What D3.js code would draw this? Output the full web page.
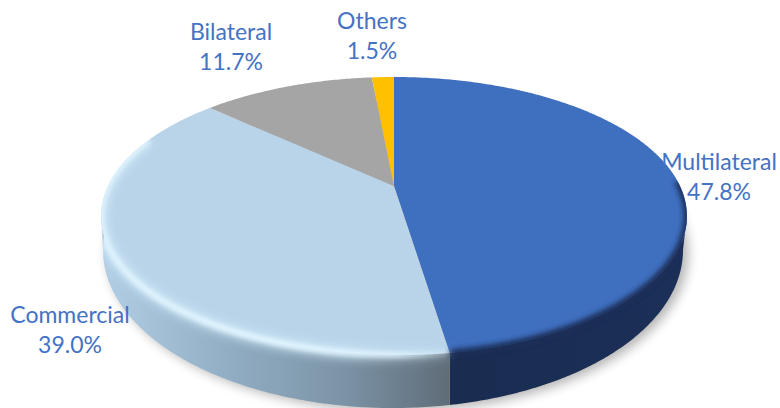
<!DOCTYPE html>
<html>
<head>
<meta charset="utf-8">
<script src="https://d3js.org/d3.v7.min.js"></script>
<style>
  html, body { margin: 0; background: #fff; }
  svg { display: block; }
  text { font-family: Lato, "Open Sans", sans-serif; fill: #4472C4; text-anchor: middle; }
</style>
</head>
<body>
<svg width="780" height="408"></svg>
<script>
var categories = ["Multilateral", "Commercial", "Bilateral", "Others"];
var shares = [47.8, 39.0, 11.7, 1.5];
var pctLabels = ["47.8%", "39.0%", "11.7%", "1.5%"];
var colors = ["#3F6FBF", "#B9D3E9", "#A5A5A5", "#FFC000"];

var svg = d3.select("svg"),
    defs = svg.append("defs");

// the disc is seen in perspective: depth -1 (back) .. 1 (front)
var persp = -0.2158;
var X = d3.scaleLinear().domain([-1, 1]).range([108, 680]);
var Y = d3.scaleLinear().domain([-1, 1]).range([93.6, 278.4]);
var rim = function(a) {
  var u = Math.sin(a), v = -Math.cos(a), w = 1 + persp * v;
  // the front edge leans a little to the right in the picture
  var lean = 6 * Math.pow(Math.max(v, 0), 8);
  return [X(u / w) + lean, Y(v) / w];
};
// bottom edge of the wall, an ellipse of its own
var footX = d3.scaleLinear().domain([-1, 1]).range([103, 683]);
var footY = d3.scaleLinear().domain([-1, 1]).range([92, 408]);
var footAt = function(a) {
  return [footX(Math.sin(a)), footY(-Math.cos(a))];
};
// point of the foot right under a rim point, so seams stay vertical
var foot = function(a) {
  var x = rim(a)[0];
  var s = Math.max(-1, Math.min(1, footX.invert(x)));
  return [footX(s), footY(Math.sqrt(1 - s * s))];
};
var arcPoints = function(fn, a0, a1) {
  var n = Math.max(2, Math.ceil(Math.abs(a1 - a0) / 0.01));
  return d3.range(n + 1).map(function(i) { return fn(a0 + (a1 - a0) * i / n); });
};

var line = d3.line();
var pie = d3.pie().sort(null).value(function(d) { return d; });
var slices = pie(shares);
var centre = [X(0), Y(0)];
var deg = function(a) { return a * Math.PI / 180; };
// only this part of the rim has a visible wall under it
var wallStart = Math.acos(persp), wallEnd = 2 * Math.PI - wallStart;

var blur = function(id, dev) {
  defs.append("filter").attr("id", id)
    .attr("x", "-20%").attr("y", "-20%").attr("width", "140%").attr("height", "140%")
    .append("feGaussianBlur").attr("stdDeviation", dev);
};
blur("shadow", 6);
blur("soft", 2.4);
blur("glow", 2.2);
blur("wide", 5);

var grad = function(id, x1, x2, stops) {
  var g = defs.append("linearGradient").attr("id", id)
    .attr("gradientUnits", "userSpaceOnUse")
    .attr("x1", x1).attr("x2", x2).attr("y1", 0).attr("y2", 0);
  stops.forEach(function(s) {
    g.append("stop").attr("offset", s[0]).attr("stop-color", s[1])
      .attr("stop-opacity", s[2] === undefined ? 1 : s[2]);
  });
  return "url(#" + id + ")";
};
var wallFill = [
  grad("wall0", 450, 690, [[0, "#1A2C50"], [1, "#1B2F58"]]),
  grad("wall1", 100, 450, [[0, "#B3CFE6"], [0.35, "#93AFC5"], [0.7, "#7B93A6"], [1, "#5F6C78"]]),
  "#777", "#997400"
];

// the bevels may not leave the disc
defs.append("clipPath").attr("id", "disc")
  .append("path")
  .attr("d", line(arcPoints(rim, 0, 2 * Math.PI)) + "Z" + line(arcPoints(footAt, 0, 2 * Math.PI)) + "Z");

// soft shadow under the disc
svg.append("path")
  .attr("d", line(arcPoints(footAt, 0, 2 * Math.PI)) + "Z")
  .attr("fill", "#000").attr("opacity", 0.3)
  .attr("transform", "translate(5,3)")
  .attr("filter", "url(#shadow)");

// wall
svg.append("g").selectAll("path")
  .data(slices)
  .join("path")
  .attr("fill", function(d, i) { return wallFill[i]; })
  .attr("d", function(d) {
    var a0 = Math.max(d.startAngle, wallStart), a1 = Math.min(d.endAngle, wallEnd);
    if (a1 <= a0) return null;
    var top = arcPoints(rim, a0, a1);
    var bottom = arcPoints(foot, a1, a0);
    return line(top.concat(bottom)) + "Z";
  });

// top face
svg.append("g").selectAll("path")
  .data(slices)
  .join("path")
  .attr("fill", function(d, i) { return colors[i]; })
  .attr("d", function(d) {
    return line([centre].concat(arcPoints(rim, d.startAngle, d.endAngle))) + "Z";
  });

// bevel along the front of the rim
var bevels = svg.append("g").attr("clip-path", "url(#disc)");
bevels.append("g").attr("filter", "url(#soft)").append("path")
  .attr("d", line(arcPoints(rim, deg(88), slices[0].endAngle)))
  .attr("fill", "none").attr("stroke", "#1B2F58").attr("stroke-width", 7);
var glowWide = grad("glowWide", 100, 450, [[0, "#D5EEFC", 0.7], [0.7, "#D5EEFC", 0.7], [1, "#D5EEFC", 0.15]]);
bevels.append("g").attr("filter", "url(#wide)").append("path")
  .attr("d", line(arcPoints(rim, slices[0].endAngle, deg(292))))
  .attr("fill", "none").attr("stroke", glowWide).attr("stroke-width", 12);
var glow = grad("glowGrad", 100, 450, [[0, "#E2F6FF", 0.85], [0.5, "#E2F6FF", 1], [0.85, "#E2F6FF", 0.8], [1, "#E2F6FF", 0.2]]);
bevels.append("g").attr("filter", "url(#glow)").append("path")
  .attr("d", line(arcPoints(rim, slices[0].endAngle, deg(292))))
  .attr("fill", "none").attr("stroke", glow).attr("stroke-width", 6);

// labels
var labelX = [719, 70, 231, 372];
var labelY = [170, 323, 40, 29];
var labels = svg.append("g").selectAll("g")
  .data(categories)
  .join("g");
labels.append("text")
  .attr("x", function(d, i) { return labelX[i]; })
  .attr("y", function(d, i) { return labelY[i]; })
  .attr("font-size", 23)
  .text(function(d) { return d; });
labels.append("text")
  .attr("x", function(d, i) { return labelX[i]; })
  .attr("y", function(d, i) { return labelY[i] + 30; })
  .attr("font-size", 23)
  .text(function(d, i) { return pctLabels[i]; });
</script>
</body>
</html>
